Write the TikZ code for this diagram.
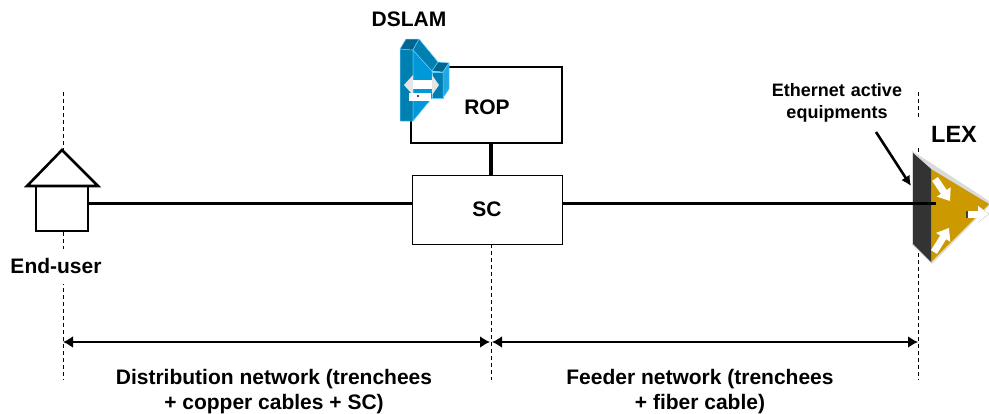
\documentclass[tikz,border=0pt]{standalone}
\usepackage{fontspec}
\setmainfont{Liberation Sans}
\usetikzlibrary{arrows.meta}
\definecolor{dslamdark}{HTML}{0080B0}
\definecolor{dslammid}{HTML}{0098D8}
\definecolor{dslamtop}{HTML}{006690}
\definecolor{dslamedge}{HTML}{66CCFF}
\definecolor{lexgold}{HTML}{CC9900}
\definecolor{lexdark}{HTML}{333333}
\tikzset{
    lbl/.style={font=\fontsize{21}{24.5}\selectfont\bfseries, align=center, inner sep=0pt},
    smalllbl/.style={font=\fontsize{18}{22}\selectfont\bfseries, align=center, inner sep=0pt},
    thickbox/.style={draw, line width=2.5pt, fill=white, minimum width=151, minimum height=76, inner sep=0pt},
    thinbox/.style={draw, line width=0.8pt, fill=white, minimum width=150, minimum height=69, inner sep=0pt},
    link/.style={line width=3pt},
    guide/.style={dash pattern=on 4pt off 3pt, line width=1pt},
    span/.style={line width=2.6pt, {Latex[length=10pt,width=12pt]}-{Latex[length=10pt,width=12pt]}},
    whitearrow/.style={white, line width=7pt, -{Triangle[length=11pt,width=16pt]}},
    shadearrow/.style={black!75, line width=7pt, -{Triangle[length=11pt,width=16pt]}},
    blueface/.style={draw=dslamedge, line width=0.5pt, fill=#1},
}
\begin{document}
\begin{tikzpicture}[x=1pt,y=-1pt]
    \useasboundingbox (0,0) rectangle (989,413);

    % vertical guides
    \coordinate (guideAtop) at (63,92);
    \coordinate (guideAbot) at (63,380);
    \coordinate (guideBbot) at (491,380);
    \coordinate (guideCtop) at (918,92);
    \coordinate (guideCmidA) at (918,117);
    \coordinate (guideCmidB) at (918,148);
    \coordinate (guideCbot) at (918,380);
    \draw[guide] (guideAtop) -- (guideAbot);
    \draw[guide] (guideCtop) -- (guideCmidA);
    \draw[guide] (guideCmidB) -- (guideCbot);

    % boxes
    \node[thickbox] (rop) at (486.5,105) {};
    \node[thinbox] (sc) at (487,209.5) {};
    \node[lbl] (roplabel) at (487,107) {ROP};
    \node[lbl] (sclabel) at (487,209) {SC};
    \draw[guide] (sc.south -| guideBbot) -- (guideBbot);
    \draw[line width=4pt] (rop.south -| guideBbot) -- (sc.north -| guideBbot);

    % house
    \node[draw, line width=2.6pt, fill=white, minimum width=52, minimum height=45, inner sep=0pt] (body) at (62,208.5) {};
    \coordinate (roofl) at (27,186);
    \coordinate (roofr) at (98,186);
    \coordinate (apex) at (62,150);
    \draw[line width=2.6pt, fill=white, line join=miter] (roofl) -- (apex) -- (roofr) -- cycle;
    \node[lbl, fill=white, minimum height=35] (enduser) at (56,266) {End-user};

    % main line
    \coordinate (lineA) at (body.east |- 0,203);
    \coordinate (lineB) at (sc.west |- 0,203);
    \coordinate (lineC) at (sc.east |- 0,203);
    \coordinate (lexin) at (936,203);
    \draw[link] (lineA) -- (lineB);

    % LEX
    \coordinate (lexa) at (913,153);
    \coordinate (lexb) at (931,169);
    \coordinate (lexc) at (931,262);
    \coordinate (lexd) at (913,244);
    \coordinate (lexe) at (989,204);
    \fill[black!14] (912,151) -- (931,163) -- (989,201) -- (989,206) -- (932,264) -- (912,245) -- cycle;
    \fill[lexgold] (lexb) -- (lexe) -- (lexc) -- cycle;
    \fill[lexdark] (lexa) -- (lexb) -- (lexc) -- (lexd) -- cycle;
    \draw[link] (lineC) -- (lexin);
    \draw[shadearrow] (966,214) -- (989,214);
    \draw[whitearrow] (967.5,214) -- (989,214);
    \draw[whitearrow] (935,179) -- (950,201);
    \draw[whitearrow] (934,252) -- (949,228);
    \node[font=\fontsize{23.5}{26}\selectfont\bfseries, inner sep=0pt] (lex) at (954,134) {LEX};

    % DSLAM
    \draw[blueface=dslamdark] (400,49) -- (413,50) -- (413,121) -- (400,121) -- cycle;
    \draw[blueface=dslammid] (413,50) -- (432,71) -- (432,98) -- (413,121) -- cycle;
    \draw[blueface=dslamtop] (400,49) -- (406,39) -- (419,39) -- (413,50) -- cycle;
    \draw[blueface=dslamdark] (413,50) -- (419,39) -- (438,62) -- (432,71) -- cycle;
    \draw[blueface=dslamtop] (432,71) -- (438,62) -- (449,63) -- (443,72) -- cycle;
    \draw[blueface=dslamdark] (432,72) -- (443,72) -- (443,98) -- (432,98) -- cycle;
    \draw[blueface=dslammid!70!dslamedge] (443,72) -- (449,63) -- (449,89) -- (443,98) -- cycle;
    \fill[black!10] (404,85) -- (413,75) -- (413,95) -- cycle;
    \fill[black!10] (439,85) -- (432,75) -- (432,95) -- cycle;
    \fill[white] (413,80) rectangle (432,89);
    \fill[white] (409,93) rectangle (431,101);
    \fill[black!70] (417,95) rectangle (419,97);
    \node[lbl] (dslam) at (409,19) {DSLAM};

    % annotation
    \node[smalllbl, text width=150] (ethernet) at (837,103) {Ethernet active\\equipments};
    \coordinate (ethtail) at (876,132);
    \coordinate (ethtip) at (911,186);
    \draw[line width=2.6pt, -{Latex[length=10pt,width=10pt]}] (ethtail) -- (ethtip);

    % spans
    \coordinate (spanA) at (63,342);
    \coordinate (spanB) at (490,342);
    \coordinate (spanC) at (492,342);
    \coordinate (spanD) at (918,342);
    \draw[span] (spanA) -- (spanB);
    \draw[span] (spanC) -- (spanD);
    \node[lbl] (distribution) at (274,391.5) {Distribution network (trenchees\\+ copper cables + SC)};
    \node[lbl] (feeder) at (700,391.5) {Feeder network (trenchees\\+ fiber cable)};
\end{tikzpicture}
\end{document}
